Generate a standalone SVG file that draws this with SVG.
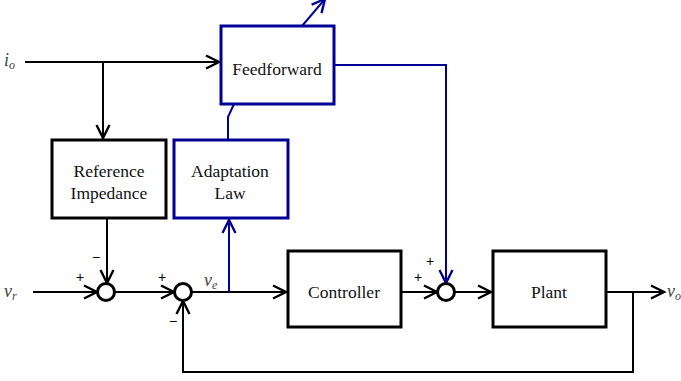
<svg xmlns="http://www.w3.org/2000/svg" width="681" height="381" viewBox="0 0 681 381">
<style>
.box{fill:#fff;stroke:#000;stroke-width:3}
.bbox{fill:#fff;stroke:#000096;stroke-width:3}
.c{fill:none;stroke:#000;stroke-width:2}
.bc{fill:none;stroke:#000096;stroke-width:2}
.sum{fill:#fff;stroke:#000;stroke-width:3}
.t{font-size:17.5px;fill:#111;text-anchor:middle}
.v{font-size:18px;font-style:italic;fill:#444}
.s{font-size:12px;font-style:italic;fill:#444}
.p{font-size:14px;fill:#000;text-anchor:middle}
</style>
<defs>
<marker id="a" markerUnits="userSpaceOnUse" markerWidth="18" markerHeight="18" viewBox="0 0 18 18" refX="15" refY="9" orient="auto">
<path d="M2,2.5 L15,9 L2,15.5" fill="none" stroke="#000" stroke-width="2.4"/>
</marker>
<marker id="b" markerUnits="userSpaceOnUse" markerWidth="18" markerHeight="18" viewBox="0 0 18 18" refX="15" refY="9" orient="auto">
<path d="M2,2.5 L15,9 L2,15.5" fill="none" stroke="#000096" stroke-width="2.4"/>
</marker>
</defs>
<g id="connectors">
<path class="c" d="M25,62 H219" marker-end="url(#a)"/>
<path class="c" d="M103,62 V138" marker-end="url(#a)"/>
<path class="bc" d="M302,26 L325,-1" marker-end="url(#b)"/>
<path class="bc" d="M234,104 L228,117 V140"/>
<path class="bc" d="M334,65 H446 V283" marker-end="url(#b)"/>
<path class="c" d="M107,218 V283" marker-end="url(#a)"/>
<path class="c" d="M33,292 H97" marker-end="url(#a)"/>
<path class="c" d="M115,292 H174" marker-end="url(#a)"/>
<path class="c" d="M192,292 H286" marker-end="url(#a)"/>
<path class="bc" d="M229,292 V220" marker-end="url(#b)"/>
<path class="c" d="M401,292 H437" marker-end="url(#a)"/>
<path class="c" d="M455,292 H491" marker-end="url(#a)"/>
<path class="c" d="M607,292 H664" marker-end="url(#a)"/>
<path class="c" d="M633,292 V372 H183 V301" marker-end="url(#a)"/>
</g>
<g font-family="'Liberation Serif', serif">
<g id="feedforward">
<rect class="bbox" x="221" y="26" width="113" height="78"/>
<text class="t" x="277" y="75">Feedforward</text>
</g>
<g id="reference-impedance">
<rect class="box" x="52" y="140" width="114" height="78"/>
<text class="t" x="109" y="177">Reference</text>
<text class="t" x="109" y="199">Impedance</text>
</g>
<g id="adaptation-law">
<rect class="bbox" x="174" y="140" width="114" height="78"/>
<text class="t" x="230" y="177">Adaptation</text>
<text class="t" x="230" y="199">Law</text>
</g>
<g id="controller">
<rect class="box" x="288" y="251" width="113" height="76"/>
<text class="t" x="344" y="298">Controller</text>
</g>
<g id="plant">
<rect class="box" x="493" y="251" width="113" height="76"/>
<text class="t" x="549" y="298">Plant</text>
</g>
<g id="sum1"><circle class="sum" cx="106" cy="292" r="8.5"/></g>
<g id="sum2"><circle class="sum" cx="183" cy="292" r="8.5"/></g>
<g id="sum3"><circle class="sum" cx="446" cy="292" r="8.5"/></g>
<g id="labels">
<text class="v" x="4" y="66">i<tspan class="s" dy="3">o</tspan></text>
<text class="v" x="4" y="297">v<tspan class="s" dy="3">r</tspan></text>
<text class="v" x="204" y="286">v<tspan class="s" dy="3">e</tspan></text>
<text class="v" x="667" y="297">v<tspan class="s" dy="3">o</tspan></text>
<g font-family="'Liberation Sans', sans-serif">
<text class="p" x="80" y="282">+</text>
<text class="p" x="96" y="262">−</text>
<text class="p" x="162" y="282">+</text>
<text class="p" x="173" y="326">−</text>
<text class="p" x="418" y="282">+</text>
<text class="p" x="430" y="266">+</text>
</g>
</g>
</g>
</svg>
